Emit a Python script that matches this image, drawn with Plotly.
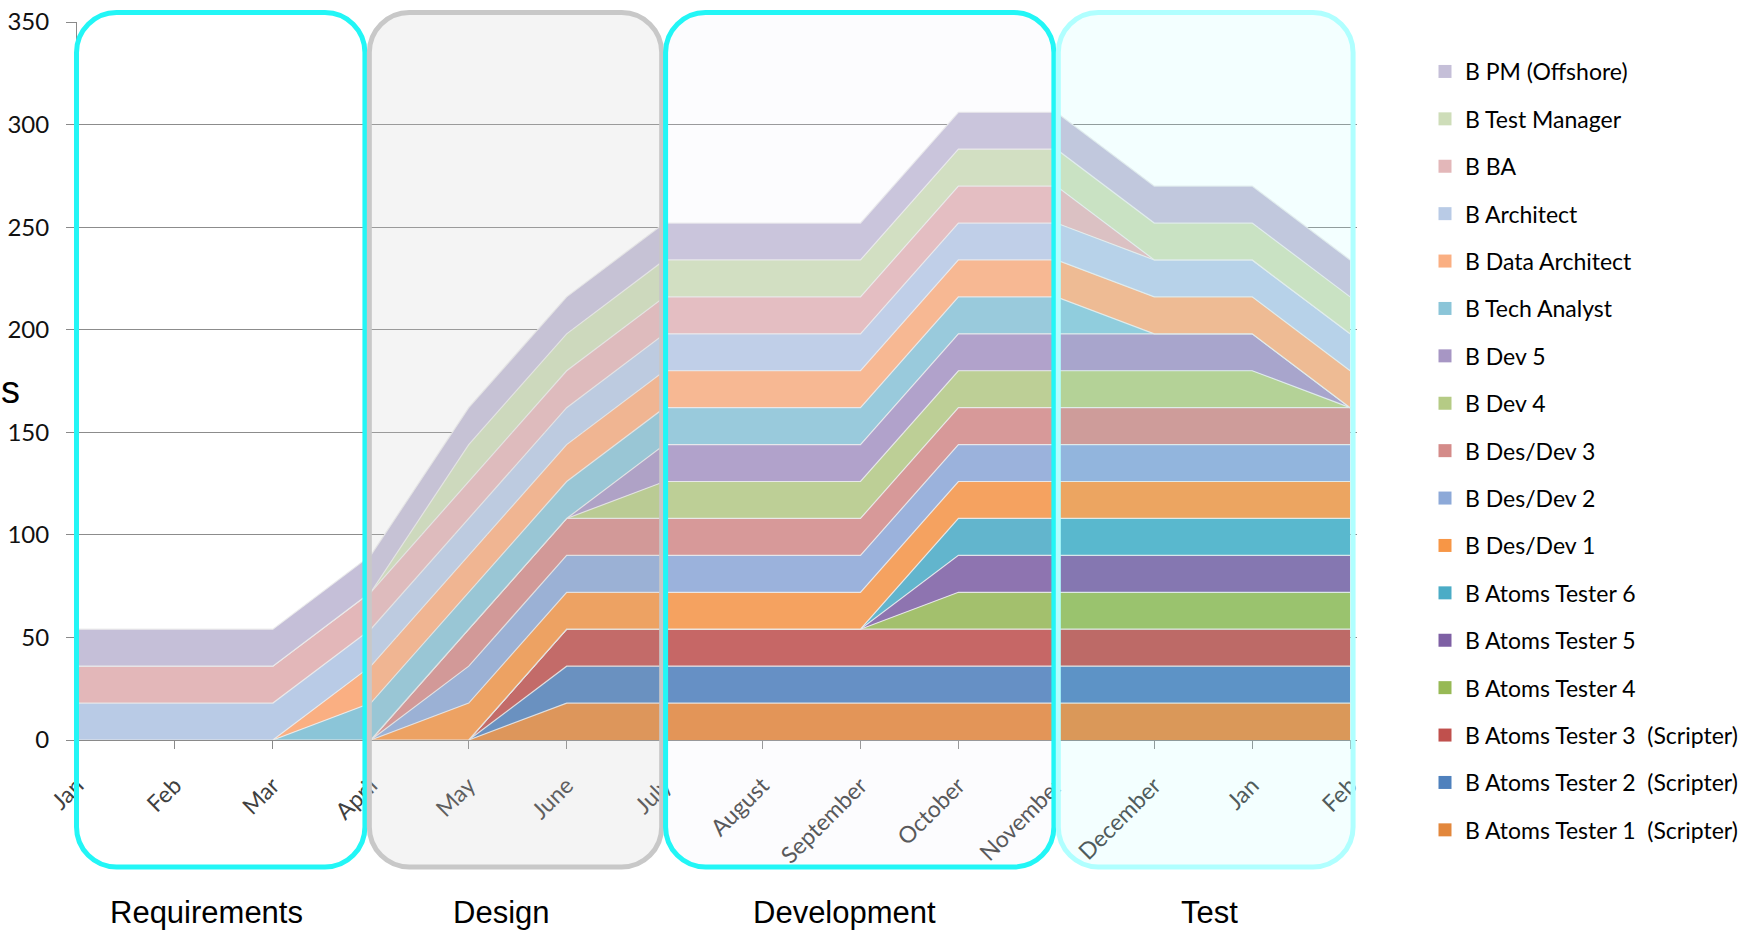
import plotly.graph_objects as go

# ---------------- data ----------------
months = ["Jan", "Feb", "Mar", "April", "May", "June", "July", "August",
          "September", "October", "November", "December", "Jan", "Feb"]

atoms_tester_1 = [0, 0, 0, 0, 0, 18, 18, 18, 18, 18, 18, 18, 18, 18]
atoms_tester_2 = [0, 0, 0, 0, 0, 18, 18, 18, 18, 18, 18, 18, 18, 18]
atoms_tester_3 = [0, 0, 0, 0, 0, 18, 18, 18, 18, 18, 18, 18, 18, 18]
atoms_tester_4 = [0, 0, 0, 0, 0, 0, 0, 0, 0, 18, 18, 18, 18, 18]
atoms_tester_5 = [0, 0, 0, 0, 0, 0, 0, 0, 0, 18, 18, 18, 18, 18]
atoms_tester_6 = [0, 0, 0, 0, 0, 0, 0, 0, 0, 18, 18, 18, 18, 18]
des_dev_1 = [0, 0, 0, 0, 18, 18, 18, 18, 18, 18, 18, 18, 18, 18]
des_dev_2 = [0, 0, 0, 0, 18, 18, 18, 18, 18, 18, 18, 18, 18, 18]
des_dev_3 = [0, 0, 0, 0, 18, 18, 18, 18, 18, 18, 18, 18, 18, 18]
dev_4 = [0, 0, 0, 0, 0, 0, 18, 18, 18, 18, 18, 18, 18, 0]
dev_5 = [0, 0, 0, 0, 0, 0, 18, 18, 18, 18, 18, 18, 18, 0]
tech_analyst = [0, 0, 0, 18, 18, 18, 18, 18, 18, 18, 18, 0, 0, 0]
data_architect = [0, 0, 0, 18, 18, 18, 18, 18, 18, 18, 18, 18, 18, 18]
architect = [18, 18, 18, 18, 18, 18, 18, 18, 18, 18, 18, 18, 18, 18]
ba = [18, 18, 18, 18, 18, 18, 18, 18, 18, 18, 18, 0, 0, 0]
test_manager = [0, 0, 0, 0, 18, 18, 18, 18, 18, 18, 18, 18, 18, 18]
pm_offshore = [18, 18, 18, 18, 18, 18, 18, 18, 18, 18, 18, 18, 18, 18]

NB = "\u00a0"
# stacking order, bottom -> top
series_names = [
    "B Atoms Tester 1" + NB + " (Scripter)",
    "B Atoms Tester 2" + NB + " (Scripter)",
    "B Atoms Tester 3" + NB + " (Scripter)",
    "B Atoms Tester 4", "B Atoms Tester 5", "B Atoms Tester 6",
    "B Des/Dev 1", "B Des/Dev 2", "B Des/Dev 3",
    "B Dev 4", "B Dev 5", "B Tech Analyst", "B Data Architect",
    "B Architect", "B BA", "B Test Manager", "B PM (Offshore)",
]
series_values = [
    atoms_tester_1, atoms_tester_2, atoms_tester_3,
    atoms_tester_4, atoms_tester_5, atoms_tester_6,
    des_dev_1, des_dev_2, des_dev_3,
    dev_4, dev_5, tech_analyst, data_architect,
    architect, ba, test_manager, pm_offshore,
]
series_colors = [
    "#E2873C", "#4F81BD", "#C0504D", "#97B955", "#7E60A4", "#4BACC6",
    "#F79646", "#8DA9D8", "#D48B89", "#B5CB85", "#A796C4", "#8BC5D8",
    "#FAAF82", "#B9CBE6", "#E3B7B9", "#CEDDB9", "#C5BFD8",
]

# project phases (x in month-index units)
phase_names = ["Requirements", "Design", "Development", "Test"]
phase_start = [-0.005, 2.985, 6.01, 10.02]
phase_end = [2.94, 5.97, 9.975, 13.03]
phase_label_x = [1.322, 4.337, 7.832, 11.559]
phase_line = ["#22F6F6", "#C8C8C8", "#22F6F6", "#B0FFFF"]
phase_fill = ["rgba(0,0,0,0)", "rgba(205,205,205,0.22)",
              "rgba(235,235,250,0.15)", "rgba(175,255,255,0.15)"]

x_idx = list(range(len(months)))
X_MAX = 13.07

# ---------------- figure ----------------
fig = go.Figure()

for name, vals, col in zip(series_names, series_values, series_colors):
    fig.add_trace(go.Scatter(
        x=x_idx, y=vals, name=name, stackgroup="one", mode="lines",
        line=dict(width=1.2, color="rgba(235,235,235,0.9)"),
        fillcolor=col, showlegend=False, hoverinfo="skip",
    ))

# legend entries (top to bottom = reversed stacking)
for name, col in zip(series_names[::-1], series_colors[::-1]):
    fig.add_trace(go.Scatter(
        x=[None], y=[None], mode="markers", name=name, legendgroup=name,
        marker=dict(symbol="square", size=13, color=col, line=dict(width=0)),
        hoverinfo="skip",
    ))

L, R, T, B = 77, 403, 22, 190
W, H = 1760, 930
PW, PH = W - L - R, H - T - B


def px_y(py):
    return (H - B - py) / PH


def rounded(x0, x1, y0, y1, r):
    rx, ry, k = r / PW, r / PH, 0.5523
    return (f"M{x0+rx},{y1} L{x1-rx},{y1} "
            f"C{x1-rx+k*rx},{y1} {x1},{y1-ry+k*ry} {x1},{y1-ry} "
            f"L{x1},{y0+ry} "
            f"C{x1},{y0+ry-k*ry} {x1-rx+k*rx},{y0} {x1-rx},{y0} "
            f"L{x0+rx},{y0} "
            f"C{x0+rx-k*rx},{y0} {x0},{y0+ry-k*ry} {x0},{y0+ry} "
            f"L{x0},{y1-ry} "
            f"C{x0},{y1-ry+k*ry} {x0+rx-k*rx},{y1} {x0+rx},{y1} Z")


shapes = []
annotations = []
for nm, s, e, lx, lc, fc in zip(phase_names, phase_start, phase_end,
                                phase_label_x, phase_line, phase_fill):
    shapes.append(dict(
        type="path", xref="paper", yref="paper", layer="above",
        path=rounded(s / X_MAX, e / X_MAX, px_y(867), px_y(12.5), 40),
        line=dict(color=lc, width=5), fillcolor=fc,
    ))
    annotations.append(dict(
        text=nm, xref="paper", yref="paper", x=lx / X_MAX, y=px_y(912),
        xanchor="center", yanchor="middle", showarrow=False,
        font=dict(family="Liberation Sans, Arial", size=31, color="#000000"),
    ))

# axis title fragment at the left edge
annotations.append(dict(
    text="s", xref="paper", yref="paper", x=(0 - L) / PW, y=px_y(390),
    xanchor="left", yanchor="middle", showarrow=False, borderpad=0,
    font=dict(family="Liberation Sans, Arial", size=38, color="#000000"),
))

fig.update_layout(
    width=W, height=H,
    margin=dict(l=L, r=R, t=T, b=B, pad=0, autoexpand=False),
    paper_bgcolor="white", plot_bgcolor="white",
    font=dict(family="Lato, Noto Sans, sans-serif"),
    shapes=shapes, annotations=annotations,
    showlegend=True,
    legend=dict(
        xref="container", yref="container",
        x=1425 / W, y=1 - 50 / H, xanchor="left", yanchor="top",
        font=dict(family="Lato", size=23, color="#000000"),
        bgcolor="rgba(0,0,0,0)", tracegroupgap=14.5, itemclick=False,
        maxheight=900,
    ),
    xaxis=dict(
        range=[0, X_MAX], tickmode="array", tickvals=x_idx, ticktext=months,
        tickangle=-45, ticks="outside", ticklen=8, tickcolor="#8a8a8a",
        showline=True, linecolor="#8a8a8a", linewidth=1,
        showgrid=False, zeroline=False, automargin=False,
        tickfont=dict(family="Lato", size=23, color="#404040"),
        ticklabelstandoff=14,
    ),
    yaxis=dict(
        range=[0, 350], dtick=50, tick0=0, ticks="outside", ticklen=10,
        tickcolor="#8a8a8a", showline=True, linecolor="#8a8a8a", linewidth=1,
        showgrid=True, gridcolor="#8c8c8c", gridwidth=1, zeroline=False,
        automargin=False,
        tickfont=dict(family="Lato", size=24, color="#111111"),
        ticklabelstandoff=12,
    ),
)

fig.write_html("out.html")
